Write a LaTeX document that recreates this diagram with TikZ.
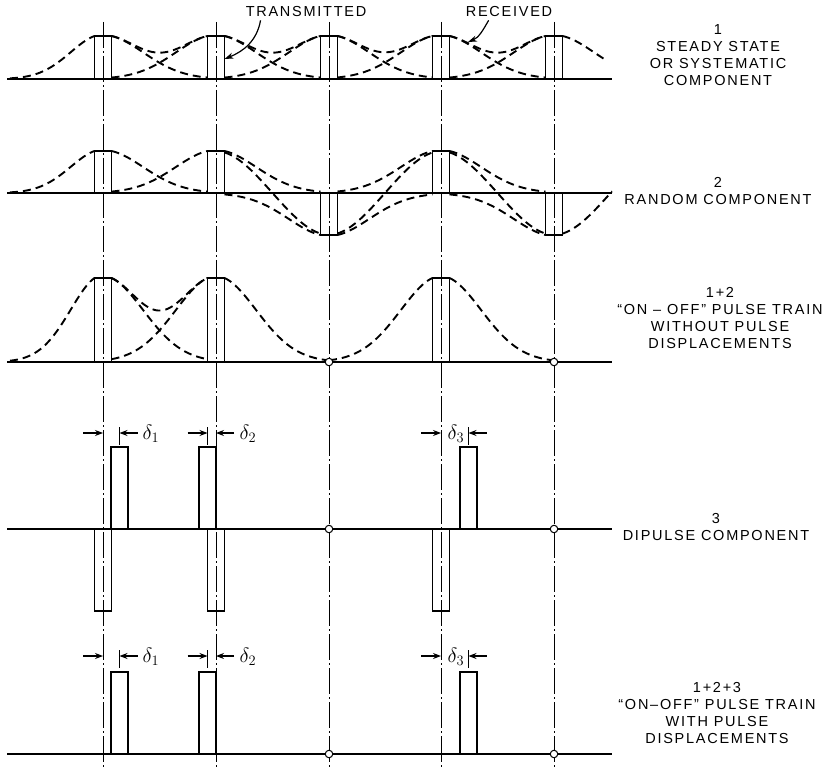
\documentclass[tikz,border=0pt]{standalone}
\usepackage{fontspec}
\setmainfont{Liberation Sans}[LetterSpace=12]
\usetikzlibrary{arrows.meta}

\begin{document}
\begin{tikzpicture}[x=1pt,y=-1pt,
    declare function={bell(\q,\w)=exp(-((min(abs(\q),120))^2-72.25)/(2*\w*\w));},
    cline/.style={line width=1pt,dash pattern=on 26pt off 3pt on 2pt off 3pt},
    gnd/.style={line width=2pt},
    pulse/.style={line width=1.9pt},
    rx/.style={line width=1.9pt,dash pattern=on 8pt off 5pt,smooth,samples=40},
    zero/.style={circle,draw,fill=white,line width=1pt,inner sep=0pt,minimum size=7.5pt},
    ctext/.style={font=\fontsize{14.5}{17}\selectfont,align=center,inner sep=0pt,anchor=north},
    lab/.style={font=\fontsize{14.5}{17}\selectfont,inner sep=0pt},
    dl/.style={font=\fontsize{20}{22}\selectfont,inner sep=0pt},
    dim/.style={-{Stealth[length=8pt,width=6pt]},line width=1.1pt},
    lead/.style={-{Stealth[length=9pt,width=6pt]},line width=1.2pt}]

  \useasboundingbox (0,0) rectangle (832,767);

  \foreach \c in {103,216,329,441,554}
    \draw[cline] (\c,22) -- (\c,767);

  % 1
  \foreach \c/\a/\b/\wl in {103/10/207.5/32,216/111.5/320.5/40,329/224.5/432.5/40,441/337.5/545.5/40,554/449.5/606/40}{
    \draw[rx] plot[domain=\a:\c-8.5] (\x,{79-43*bell(\x-\c,\wl)});
    \draw[rx] plot[domain=\c+8.5:\b] (\x,{79-43*bell(\x-\c,40)});
  }
  \foreach \c/\n in {103/216,216/329,329/441,441/554}
    \draw[rx] plot[domain=\c+8.5:\n-8.5] (\x,{79-43*(1-(1-bell(\x-\c,40))*(1-bell(\x-\n,40)))});
  \foreach \c in {103,216,329,441,554}
    \draw[pulse] (\c-8.5,79) rectangle (\c+8.5,36);

  % 2
  \foreach \c/\s/\a/\b/\wl in {103/1/10/207.5/32,216/1/111.5/320.5/40,329/-1/224.5/432.5/40,441/1/337.5/545.5/40}{
    \draw[rx] plot[domain=\a:\c-8.5] (\x,{193-\s*42*bell(\x-\c,\wl)});
    \draw[rx] plot[domain=\c+8.5:\b] (\x,{193-\s*42*bell(\x-\c,40)});
  }
  \draw[rx] plot[domain=449.5:545.5] (\x,{193+42*bell(\x-554,40)});
  \foreach \c/\s/\n/\t/\e in {216/1/329/-1/320.5,329/-1/441/1/432.5,441/1/554/-1/545.5,554/-1/667/1/612}
    \draw[rx] plot[domain=\c+8.5:\e] (\x,{193-42*(\s*bell(\x-\c,40)+\t*bell(\x-\n,40))});
  \foreach \c/\s in {103/1,216/1,329/-1,441/1,554/-1}
    \draw[pulse] (\c-8.5,193) rectangle (\c+8.5,193-42*\s);

  % 1+2
  \foreach \c/\a/\b/\wl in {103/10/207.5/32,216/111.5/329/40,441/329/554/40}{
    \draw[rx] plot[domain=\a:\c-8.5] (\x,{362-84*bell(\x-\c,\wl)});
    \draw[rx] plot[domain=\c+8.5:\b] (\x,{362-84*bell(\x-\c,40)});
  }
  \draw[rx] plot[domain=111.5:207.5] (\x,{362-84*(1-(1-bell(\x-103,40))*(1-bell(\x-216,40)))});
  \foreach \c in {103,216,441}
    \draw[pulse] (\c-8.5,362) rectangle (\c+8.5,278);

  % 3
  \foreach \c/\t in {103/119.5,216/207.5,441/468.5}{
    \draw[pulse] (\c-8.5,529) rectangle (\c+8.5,611);
    \draw[pulse] (\t-8.5,529) rectangle (\t+8.5,447);
  }

  % 1+2+3
  \foreach \t in {119.5,207.5,468.5}
    \draw[pulse] (\t-8.5,754) rectangle (\t+8.5,672);

  \foreach \y in {79,193,362,529,754}
    \draw[gnd] (7,\y) -- (612,\y);

  \foreach \y/\r in {362/a,529/b,754/c}{
    \node[zero] (z3\r) at (329,\y) {};
    \node[zero] (z5\r) at (554,\y) {};
  }

  \foreach \y/\r in {433/4,656/5}
    \foreach \p/\q/\t/\lx/\n in {103/119.5/119.5/151/1,207.5/216/207.5/248/2,441/468.5/468.5/456/3}{
      \draw[line width=1.1pt] (\t,\y-6) -- (\t,\y+12);
      \coordinate (p\r\n) at (\p,\y);
      \coordinate (q\r\n) at (\q,\y);
      \draw[dim] ([xshift=-20pt]p\r\n) -- (p\r\n);
      \draw[dim] ([xshift=18pt]q\r\n) -- (q\r\n);
      \node[dl] (d\r\n) at (\lx,\y+1) {$\delta_\n$};
    }

  \node[lab] (trans) at (306,12) {TRANSMITTED};
  \node[lab] (recv) at (509,12) {RECEIVED};
  \coordinate (transTip) at (224.5,59);
  \coordinate (recvTip) at (468,42);
  \draw[lead] ([xshift=15pt,yshift=-3pt]trans.south west) to[out=-100,in=22] (transTip);
  \draw[lead] ([xshift=23pt,yshift=-3pt]recv.south west) to[out=-120,in=22] (recvTip);

  \node[ctext] (cap1) at (718,24) {1\\STEADY STATE\\OR SYSTEMATIC\\COMPONENT};
  \node[ctext] (cap2) at (718,177) {2\\RANDOM COMPONENT};
  \node[ctext] (cap3) at (720,287) {1+2\\“ON – OFF” PULSE TRAIN\\WITHOUT PULSE\\DISPLACEMENTS};
  \node[ctext] (cap4) at (716,513) {3\\DIPULSE COMPONENT};
  \node[ctext] (cap5) at (717,682) {1+2+3\\“ON–OFF” PULSE TRAIN\\WITH PULSE\\DISPLACEMENTS};
\end{tikzpicture}
\end{document}
